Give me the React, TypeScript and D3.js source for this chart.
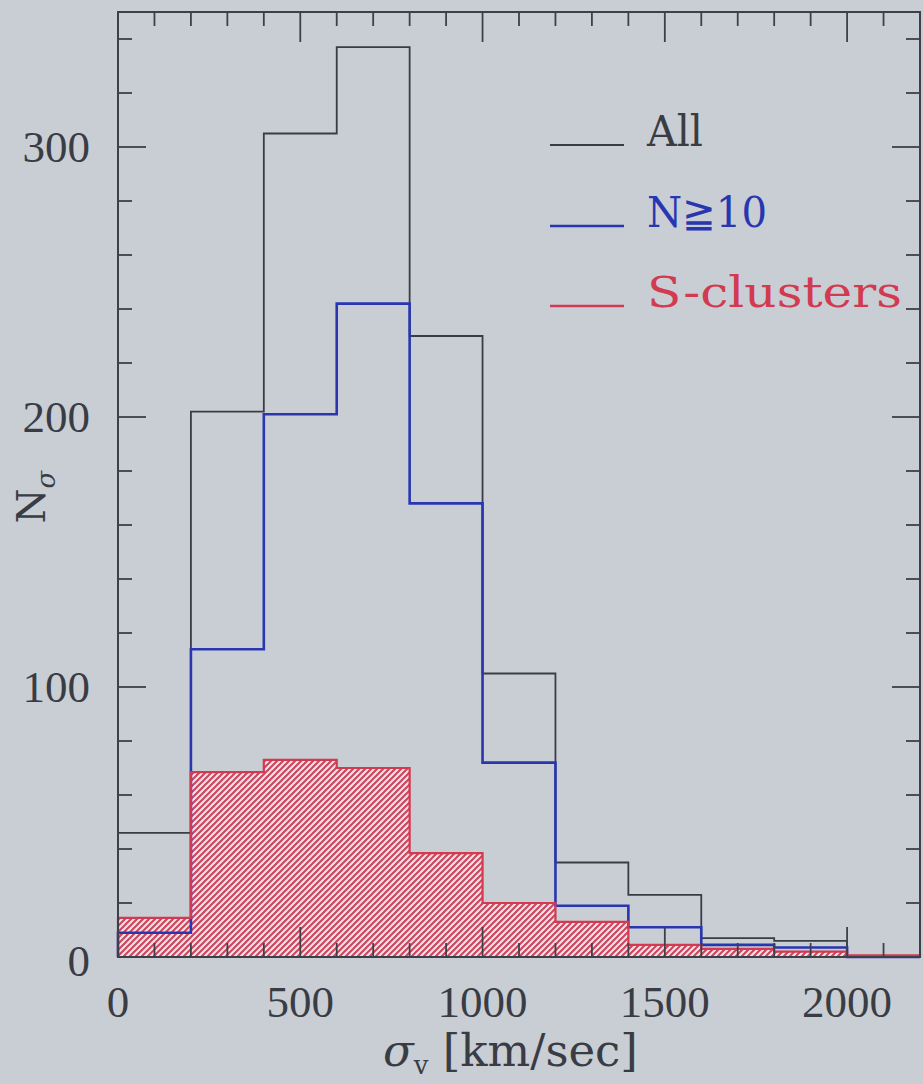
import React, {useEffect, useRef} from 'react';
import * as d3 from 'd3';

// histogram bins (km/sec) and counts per sample
const binEdges = [0, 200, 400, 600, 800, 1000, 1200, 1400, 1600, 1800, 2000, 2200];
const allCounts = [46, 202, 305, 337, 230, 105, 35, 23, 7, 6, 0];
const n10Counts = [9, 114, 201, 242, 168, 72, 19, 11, 4.5, 3.5, 0];
const sCounts = [14.5, 68.5, 73, 70, 38.5, 20, 13, 4.5, 3, 2, 0.6];

const xTicks = [0, 500, 1000, 1500, 2000];
const yTicks = [0, 100, 200, 300];
const legendLabels = ['All', 'N\u226710', 'S-clusters'];

const W = 923;
const H = 1084;

export default function App() {
  const ref = useRef<SVGSVGElement>(null);

  useEffect(() => {
    const svg = d3.select(ref.current);
    svg.selectAll('*').remove();

    const x = d3.scaleLinear().domain([0, 2200]).range([118, 920]);
    const y = d3.scaleLinear().domain([0, 350]).range([957, 12]);

    svg.append('rect').attr('width', W).attr('height', H).attr('fill', '#c9ced5');

    const defs = svg.append('defs');
    const pat = defs.append('pattern')
        .attr('id', 'hatch')
        .attr('patternUnits', 'userSpaceOnUse')
        .attr('width', 6)
        .attr('height', 6);
    pat.append('rect').attr('width', 6).attr('height', 6).attr('fill', '#ebe4e9');
    pat.append('path')
        .attr('d', 'M-1,1 l2,-2 M0,6 l6,-6 M5,7 l2,-2')
        .attr('stroke', '#d2405a')
        .attr('stroke-width', 2);

    const stepPoints = (counts: number[]) => {
      const pts: [number, number][] = [[binEdges[0], 0]];
      counts.forEach((c, i) => pts.push([binEdges[i], c]));
      pts.push([binEdges[binEdges.length - 1], counts[counts.length - 1]]);
      pts.push([binEdges[binEdges.length - 1], 0]);
      return pts;
    };

    const step = d3.line<[number, number]>()
        .x((d) => x(d[0]))
        .y((d) => y(d[1]))
        .curve(d3.curveStepAfter);

    const area = d3.area<[number, number]>()
        .x((d) => x(d[0]))
        .y0(y(0))
        .y1((d) => y(d[1]))
        .curve(d3.curveStepAfter);

    const sPts = stepPoints(sCounts);
    svg.append('path').attr('d', area(sPts.slice(1, -1))).attr('fill', 'url(#hatch)');

    svg.append('path').attr('d', step(stepPoints(allCounts)))
        .attr('fill', 'none').attr('stroke', '#3a3c44').attr('stroke-width', 1.8);
    svg.append('path').attr('d', step(stepPoints(n10Counts)))
        .attr('fill', 'none').attr('stroke', '#2836b0').attr('stroke-width', 2.6);
    svg.append('path').attr('d', step(sPts))
        .attr('fill', 'none').attr('stroke', '#d23a50').attr('stroke-width', 2.2);

    // frame and inward ticks on every side
    const [x0, x1] = x.range();
    const [y0, y1] = y.range();
    svg.append('rect')
        .attr('x', x0).attr('y', y1)
        .attr('width', x1 - x0).attr('height', y0 - y1)
        .attr('fill', 'none').attr('stroke', '#3e4049').attr('stroke-width', 2);

    const tickColor = '#3e4049';
    const g = svg.append('g').attr('stroke', tickColor).attr('stroke-width', 1.8);
    d3.range(100, 2200, 100).forEach((v) => {
      const len = v % 500 === 0 ? 30 : 14;
      g.append('line').attr('x1', x(v)).attr('x2', x(v)).attr('y1', y0).attr('y2', y0 - len);
      g.append('line').attr('x1', x(v)).attr('x2', x(v)).attr('y1', y1).attr('y2', y1 + len);
    });
    d3.range(20, 350, 20).forEach((v) => {
      const len = v % 100 === 0 ? 28 : 14;
      g.append('line').attr('y1', y(v)).attr('y2', y(v)).attr('x1', x0).attr('x2', x0 + len);
      g.append('line').attr('y1', y(v)).attr('y2', y(v)).attr('x1', x1).attr('x2', x1 - len);
    });

    const font = 'Liberation Serif, DejaVu Serif, serif';
    const wide = 'DejaVu Serif, Liberation Serif, serif';
    svg.append('g').selectAll('text')
        .data(xTicks)
        .enter()
        .append('text')
        .attr('x', (d) => x(d))
        .attr('y', 1017)
        .attr('text-anchor', 'middle')
        .attr('font-family', font)
        .attr('font-size', 45)
        .attr('fill', '#3a3c44')
        .text((d) => d);

    svg.append('g').selectAll('text')
        .data(yTicks)
        .enter()
        .append('text')
        .attr('x', 90)
        .attr('y', (d) => y(d) + (d === 0 ? 19 : 15))
        .attr('text-anchor', 'end')
        .attr('font-family', font)
        .attr('font-size', 45)
        .attr('fill', '#3a3c44')
        .text((d) => d);

    // axis titles
    const xt = svg.append('text')
        .attr('x', 383).attr('y', 1066)
        .attr('font-family', wide).attr('font-size', 45).attr('fill', '#3a3c44');
    xt.append('tspan').attr('font-style', 'italic').text('\u03c3');
    xt.append('tspan').attr('font-size', 26).attr('dy', 8).text('v');
    xt.append('tspan').attr('dy', -8).text(' [km/sec]');

    const yt = svg.append('text')
        .attr('transform', 'translate(45,497) rotate(-90)')
        .attr('text-anchor', 'middle')
        .attr('font-family', wide).attr('font-size', 40).attr('fill', '#3a3c44');
    yt.append('tspan').text('N');
    yt.append('tspan').attr('font-size', 26).attr('font-style', 'italic').attr('dy', 10).text('\u03c3');

    // legend
    const legendColors = ['#3a3c44', '#2836b0', '#d23a50'];
    const legendY = [145, 226, 306];
    const legendLen = [56, 120, 255];
    legendLabels.forEach((label, i) => {
      svg.append('line')
          .attr('x1', 550).attr('x2', 624)
          .attr('y1', legendY[i]).attr('y2', legendY[i])
          .attr('stroke', legendColors[i]).attr('stroke-width', i === 0 ? 1.8 : 2.4);
      svg.append('text')
          .attr('x', 647).attr('y', legendY[i] + 1)
          .attr('font-family', wide).attr('font-size', 42)
          .attr('fill', legendColors[i])
          .attr('textLength', legendLen[i])
          .attr('lengthAdjust', 'spacingAndGlyphs')
          .text(label);
    });
  }, []);

  return (
    <svg ref={ref} width={W} height={H}
      style={{position: 'absolute', left: 0, top: 0, display: 'block'}}/>
  );
}
